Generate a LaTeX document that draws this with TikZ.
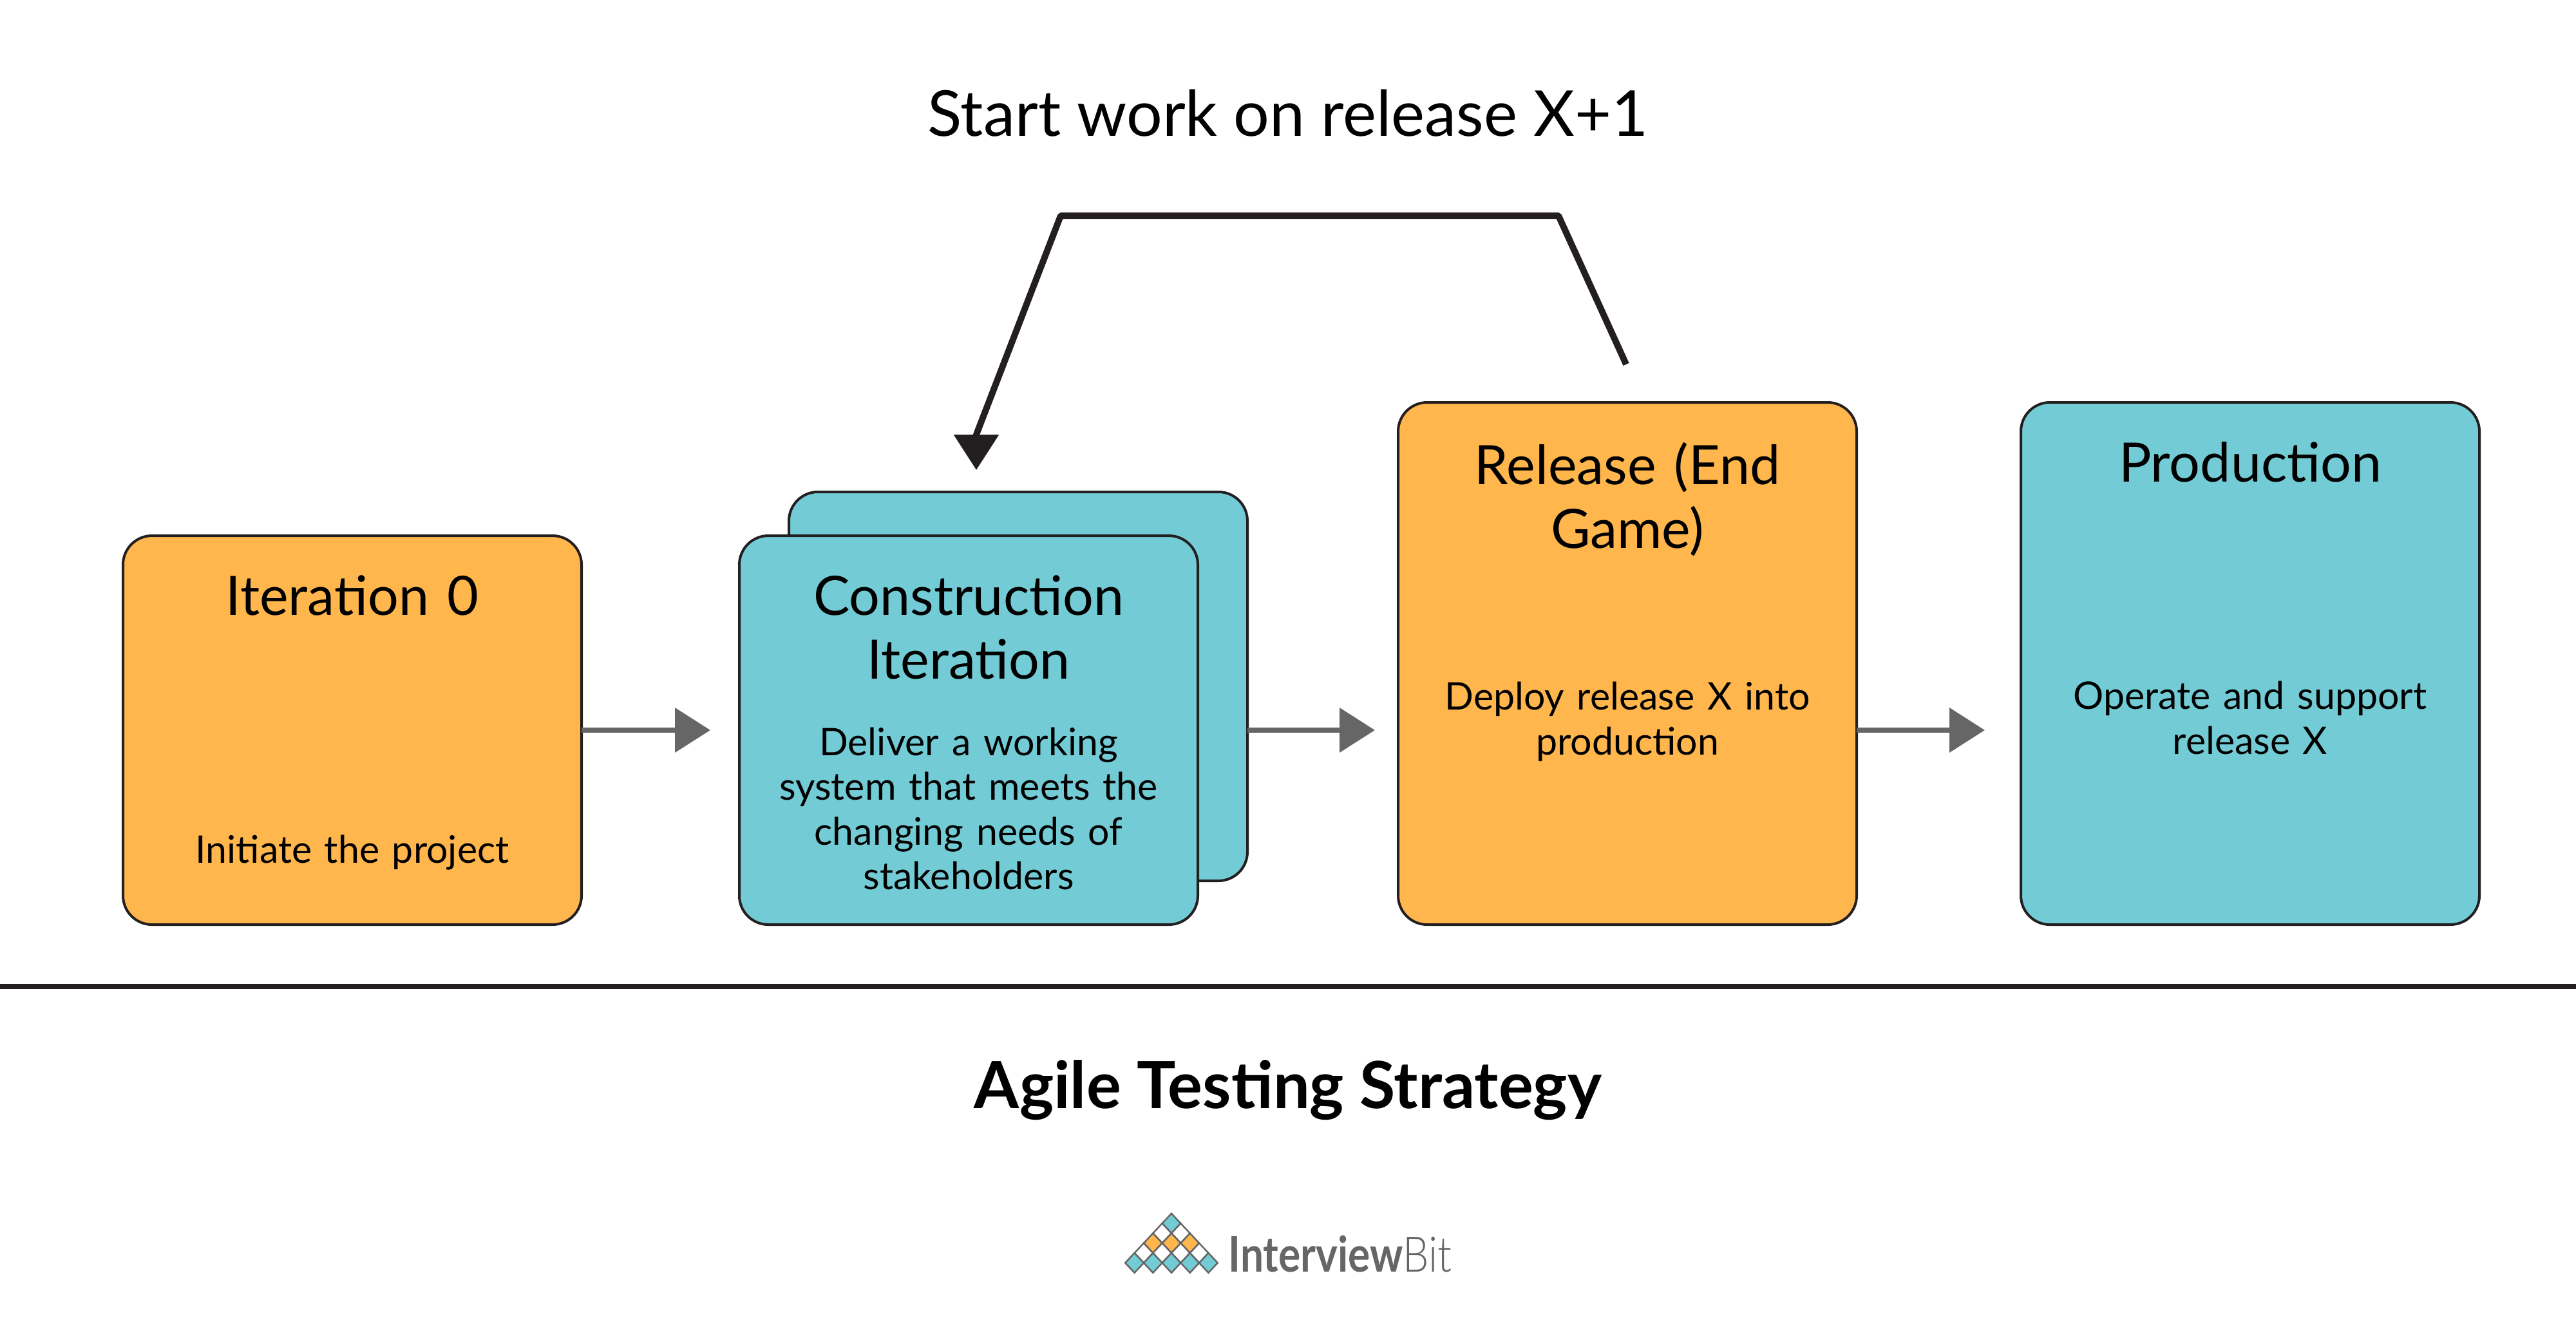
\documentclass[tikz,border=0pt]{standalone}
\usepackage{fontspec}
\setmainfont{Lato}
\newfontfamily\logolight{Lato Light}
\usetikzlibrary{arrows.meta,positioning}
\definecolor{ink}{HTML}{231F20}
\definecolor{amber}{HTML}{FFB64D}
\definecolor{aqua}{HTML}{73CCD5}
\definecolor{slate}{HTML}{666666}

\begin{document}
\begin{tikzpicture}[box/.style={draw=ink,line width=.4mm,rounded corners=4.5mm,outer sep=0pt,minimum width=71.2mm,minimum height=60.4mm},ttl/.style={font=\fontsize{24}{28.2}\selectfont,align=center,text width=66mm,inner sep=0pt},txt/.style={font=\fontsize{16.8}{19.8}\selectfont,align=center,text width=66mm,inner sep=0pt},arr/.style={-{Triangle[length=5.5mm,width=6.8mm]},line width=.8mm,draw=slate},back/.style={-{Triangle[length=5.5mm,width=6.8mm]},line width=1mm,draw=ink,line join=bevel}]
\useasboundingbox (0,0) rectangle (400mm,-206mm);
\node[box,fill=amber] (iter) at (54.7mm,-113.4mm) {};
\node[box,fill=aqua,right=32.2mm of iter,yshift=6.8mm] (more) {};
\node[box,fill=aqua,right=24.5mm of iter] (cons) {};
\node[box,fill=amber,minimum height=81.1mm,right=31.1mm of cons.south east,anchor=south west] (rel) {};
\node[box,fill=aqua,minimum height=81.1mm,right=25.5mm of rel] (prod) {};
\node[ttl,below=6.1mm of iter.north] (itert) {Iteration 0};
\node[ttl,below=6.1mm of cons.north] (const) {Construction\\Iteration};
\node[ttl,below=6.1mm of rel.north] (relt) {Release (End\\Game)};
\node[ttl,below=6.1mm of prod.north] (prodt) {Production};
\node[txt,above=8.4mm of iter.south] (iterb) {Initiate the project};
\node[txt,above=5.3mm of cons.south] (consb) {Deliver a working\\system that meets the\\changing needs of\\stakeholders};
\node[txt,above=25.3mm of rel.south] (relb) {Deploy release X into\\production};
\node[txt,above=26.35mm of prod.south] (prodb) {Operate and support\\release X};
\draw[arr,shorten >=4.5mm] (iter.east)--(cons.west);
\draw[arr,shorten >=3.6mm] (more.east |- iter.east)--(rel.west |- iter.east);
\draw[arr,shorten >=5.6mm] (rel.east |- iter.east)--(prod.west |- iter.east);
\coordinate (fbr) at (242mm,-33.5mm);
\coordinate (fbl) at (164.7mm,-33.5mm);
\coordinate (fbm) at (151.6mm,-67.5mm);
\coordinate (fbin) at (151.6mm,-76.5mm);
\draw[back,shorten <=6.5mm,shorten >=3.5mm] ([xshift=2.5mm]rel.north)--(fbr)--(fbl)--(fbm)--(fbin);
\node[font=\fontsize{28}{32}\selectfont] (top) at (200mm,-17.6mm) {Start work on release X+1};
\coordinate (rl) at (0mm,-153.2mm);
\coordinate (rr) at (400mm,-153.2mm);
\draw[ink,line width=.8mm] (rl)--(rr);
\node[font=\fontsize{28.7}{32}\bfseries\selectfont] (name) at (200mm,-169.3mm) {Agile Testing Strategy};
% logo
\begin{scope}[shift={(181.9mm,-190mm)},x=1.435mm,y=1.535mm]
\foreach \r/\c in {0/aqua,1/white,2/amber,3/white,4/aqua}
\foreach \k in {0,...,\r}
\draw[slate,line width=.25mm,fill=\c] (2*\k-\r-1,-\r)--(2*\k-\r,1-\r)--(2*\k-\r+1,-\r)--(2*\k-\r,-1-\r)--cycle;
\end{scope}
\node[anchor=base west,inner sep=0pt,text=slate,font=\fontsize{21.7}{26}\selectfont] (logo) at (190.7mm,-197.5mm) {\scalebox{.84}[1]{{\bfseries Interview}{\logolight Bit}}};
\end{tikzpicture}
\end{document}
